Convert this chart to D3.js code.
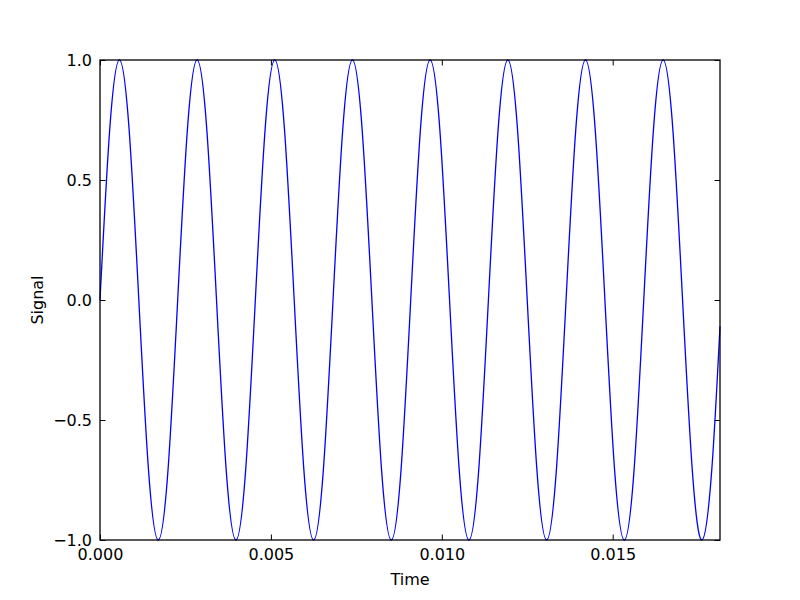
<!DOCTYPE html>
<html>
<head>
<meta charset="utf-8">
<script src="https://cdn.jsdelivr.net/npm/d3@7"></script>
<style>
  body { margin: 0; background: #fff; }
  text { font-family: "DejaVu Sans", sans-serif; }
</style>
</head>
<body>
<svg width="800" height="600"></svg>
<script>
// samples, roughly every 1/8 of a cycle
var timeVals = [
  0, 0.000284, 0.000568, 0.000852, 0.001136, 0.001420, 0.001705, 0.001989,
  0.002273, 0.002557, 0.002841, 0.003125, 0.003409, 0.003693, 0.003977, 0.004261,
  0.004545, 0.004830, 0.005114, 0.005398, 0.005682, 0.005966, 0.006250, 0.006534,
  0.006818, 0.007102, 0.007386, 0.007670, 0.007955, 0.008239, 0.008523, 0.008807,
  0.009091, 0.009375, 0.009659, 0.009943, 0.010227, 0.010511, 0.010795, 0.011080,
  0.011364, 0.011648, 0.011932, 0.012216, 0.012500, 0.012784, 0.013068, 0.013352,
  0.013636, 0.013920, 0.014205, 0.014489, 0.014773, 0.015057, 0.015341, 0.015625,
  0.015909, 0.016193, 0.016477, 0.016761, 0.017045, 0.017330, 0.017614, 0.017898,
  0.018140
];
var signalVals = [
  0, 0.71, 1, 0.71, 0, -0.71, -1, -0.71,
  0, 0.71, 1, 0.71, 0, -0.71, -1, -0.71,
  0, 0.71, 1, 0.71, 0, -0.71, -1, -0.71,
  0, 0.71, 1, 0.71, 0, -0.71, -1, -0.71,
  0, 0.71, 1, 0.71, 0, -0.71, -1, -0.71,
  0, 0.71, 1, 0.71, 0, -0.71, -1, -0.71,
  0, 0.71, 1, 0.71, 0, -0.71, -1, -0.71,
  0, 0.71, 1, 0.71, 0, -0.71, -1, -0.71,
  -0.11
];
var xTicks = [0, 0.005, 0.010, 0.015];
var yTicks = [-1.0, -0.5, 0.0, 0.5, 1.0];

var svg = d3.select("svg");
var pxL = 100, pxR = 720, pxT = 60, pxB = 540;

var scX = d3.scaleLinear().domain([0, 0.01814]).range([pxL, pxR]);
var scY = d3.scaleLinear().domain([-1, 1]).range([pxB, pxT]);

var data = timeVals.map((t, i) => ({t: t, v: signalVals[i]}));

// signal line
svg.append("path")
  .attr("fill", "none").attr("stroke", "#0000ff").attr("stroke-width", 1.3)
  .attr("d", d3.line().x(d => scX(d.t)).y(d => scY(d.v))
    .curve(d3.curveNatural)(data));

var fmtX = d3.format(".3f");
var fmtY = v => d3.format(".1f")(v).replace("-", "\u2212");

var axMkr = function (axis, tr) {
  var g = svg.append("g").attr("transform", tr).call(axis);
  g.select(".domain").remove();
  g.selectAll(".tick line").attr("stroke", "#000").attr("stroke-width", 1);
  g.selectAll("text").attr("font-size", 16).attr("fill", "#000")
    .style("font-family", "DejaVu Sans");
  return g;
};

axMkr(d3.axisBottom(scX).tickValues(xTicks).tickFormat(fmtX)
  .tickSizeInner(-5.5).tickSizeOuter(0).tickPadding(9), "translate(0," + pxB + ")");
axMkr(d3.axisTop(scX).tickValues(xTicks).tickFormat("")
  .tickSizeInner(-5.5).tickSizeOuter(0), "translate(0," + pxT + ")");
axMkr(d3.axisLeft(scY).tickValues(yTicks).tickFormat(fmtY)
  .tickSizeInner(-5.5).tickSizeOuter(0).tickPadding(8), "translate(" + pxL + ",0)");
axMkr(d3.axisRight(scY).tickValues(yTicks).tickFormat("")
  .tickSizeInner(-5.5).tickSizeOuter(0), "translate(" + pxR + ",0)");

// frame
svg.append("rect")
  .attr("x", pxL).attr("y", pxT)
  .attr("width", pxR - pxL).attr("height", pxB - pxT)
  .attr("fill", "none").attr("stroke", "#000").attr("stroke-width", 1.3);

svg.append("text").attr("x", (pxL + pxR) / 2).attr("y", 585)
  .attr("text-anchor", "middle").attr("font-size", 16).text("Time");
svg.append("text")
  .attr("transform", "translate(43," + (pxT + pxB) / 2 + ") rotate(-90)")
  .attr("text-anchor", "middle").attr("font-size", 16).text("Signal");
</script>
</body>
</html>
